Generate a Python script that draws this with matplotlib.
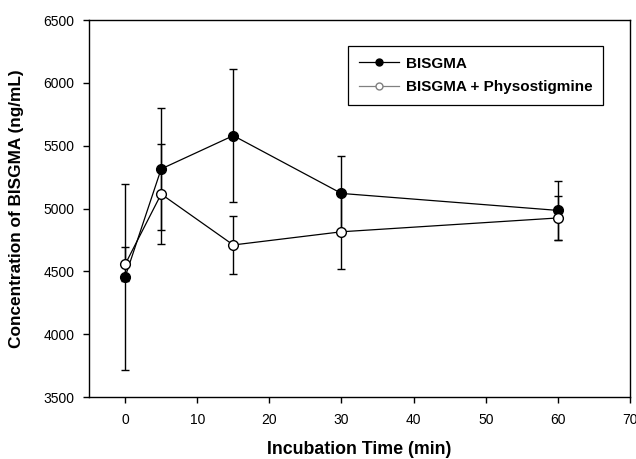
import matplotlib
matplotlib.use("Agg")
import matplotlib.pyplot as plt
from matplotlib.lines import Line2D

time = [0, 5, 15, 30, 60]
bisgma = [4455, 5315, 5580, 5120, 4985]
bisgma_err = [740, 485, 530, 300, 235]
physo = [4555, 5115, 4710, 4815, 4925]
physo_err = [135, 395, 230, 295, 178]
labels = ["BISGMA", "BISGMA + Physostigmine"]

plt.rcParams['font.family'] = ['Liberation Sans', 'DejaVu Sans']

fig = plt.figure(figsize=(6.36, 4.59), dpi=100)
ax = fig.add_axes([0.140, 0.135, 0.8506, 0.8214])

ax.errorbar(time, bisgma, yerr=bisgma_err, color='black', marker='o', markersize=7,
            markerfacecolor='black', markeredgecolor='black', linewidth=0.9,
            elinewidth=1.0, capsize=3, capthick=1.0, label=labels[0], zorder=3)
ax.errorbar(time, physo, yerr=physo_err, color='black', marker='o', markersize=7,
            markerfacecolor='white', markeredgecolor='black', linewidth=0.9,
            elinewidth=1.0, capsize=3, capthick=1.0, label=labels[1], zorder=4)

ax.set_xlim(-5, 70)
ax.set_ylim(3500, 6500)
ax.set_xticks([0, 10, 20, 30, 40, 50, 60, 70])
ax.set_yticks([3500, 4000, 4500, 5000, 5500, 6000, 6500])
ax.tick_params(axis='y', direction='out', length=4.5, width=1, labelsize=10, pad=6)
ax.tick_params(axis='x', direction='out', length=4.5, width=1, labelsize=10, pad=7)
for s in ax.spines.values():
    s.set_linewidth(1.0)

ax.set_xlabel("Incubation Time (min)", fontsize=12.8, fontweight='bold')
ax.set_ylabel("Concentration of BISGMA (ng/mL)", fontsize=12.4, fontweight='bold')
ax.xaxis.set_label_coords(0.5, -0.117)
ax.yaxis.set_label_coords(-0.12, 0.5)

handles = [Line2D([], [], color='black', marker='o', markersize=5, markerfacecolor='black', linewidth=0.9),
           Line2D([], [], color='gray', marker='o', markersize=5, markerfacecolor='white',
                  markeredgecolor='gray', linewidth=0.9)]
leg = ax.legend(handles, labels, loc='upper right', bbox_to_anchor=(0.950, 0.931),
                fancybox=False, edgecolor='black', framealpha=1, fontsize=11,
                handlelength=2.6, handletextpad=0.45, borderpad=0.7, labelspacing=0.6,
                borderaxespad=0)
leg.get_frame().set_linewidth(0.9)
for t in leg.get_texts():
    t.set_fontweight('bold')

fig.savefig("out.png", dpi=100)
